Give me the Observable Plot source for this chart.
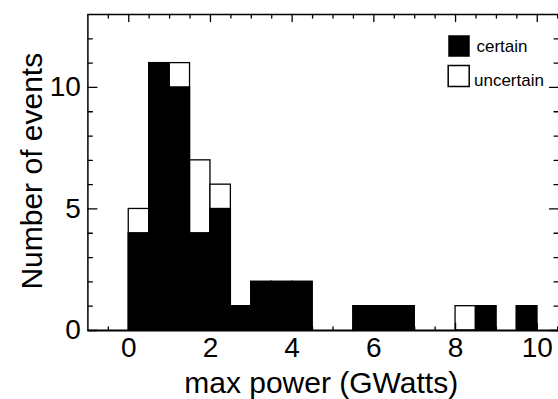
<!DOCTYPE html>
<html><head><meta charset="utf-8">
<script src="https://cdn.jsdelivr.net/npm/d3@7"></script>
<script src="https://cdn.jsdelivr.net/npm/@observablehq/plot@0.6"></script>
<style>html,body{margin:0;padding:0;background:#fff;overflow:hidden}</style>
</head><body><div id="chart"></div>
<script>
// Histogram bins (max power, GWatts) — bin start values
const binStart = [0, 0.5, 1, 1.5, 2, 2.5, 3, 3.5, 4, 4.5, 5, 5.5, 6, 6.5, 7, 7.5, 8, 8.5, 9, 9.5];
const binWidth = 0.5;
// Counts per bin
const certain   = [4, 11, 10, 4, 5, 1, 2, 2, 2, 0, 0, 1, 1, 1, 0, 0, 0, 1, 0, 1];
const uncertain = [1, 0, 1, 3, 1, 0, 0, 0, 0, 0, 0, 0, 0, 0, 0, 0, 1, 0, 0, 0];
// Axes
const xDomain = [-1, 10.52];
const yDomain = [0, 13];
const xTickLabels = [0, 2, 4, 6, 8, 10];
const xMinorTicks = [-0.5, 0.5, 1, 1.5, 2.5, 3, 3.5, 4.5, 5, 5.5, 6.5, 7, 7.5, 8.5, 9, 9.5, 10.5];
const yTickLabels = [0, 5, 10];
const yMinorTicks = [1, 2, 3, 4, 6, 7, 8, 9, 11, 12];
const xAxisTitle = "max power (GWatts)";
const yAxisTitle = "Number of events";
const legendLabels = ["certain", "uncertain"];

const bins = binStart.map((x1, i) => ({x1, x2: x1 + binWidth, certain: certain[i], total: certain[i] + uncertain[i]}));

const tickShape = {draw(c, l) { c.moveTo(0, 0); c.lineTo(0, -l); }};
const tk = (data, opts) => Plot.vector(data, {...opts, anchor: "start", shape: tickShape, stroke: "black", strokeWidth: 1.3});

const chart = Plot.plot({
  width: 558, height: 399,
  marginLeft: 87.4, marginRight: 0, marginTop: 14, marginBottom: 69,
  x: {domain: xDomain},
  y: {domain: yDomain},
  style: {fontFamily: "'Liberation Sans', Arial, Helvetica, sans-serif", background: "white", color: "black"},
  marks: [
    Plot.rectY(bins.filter(d => d.total > 0), {x1: "x1", x2: "x2", y1: 0, y2: "total", fill: "white", stroke: "black", strokeWidth: 1.3}),
    Plot.rectY(bins.filter(d => d.certain > 0), {x1: "x1", x2: "x2", y1: 0, y2: "certain", fill: "black", stroke: "black", strokeWidth: 1.3}),
    Plot.ruleX([xDomain[0]], {stroke: "black", strokeWidth: 1.5}),
    Plot.ruleY([yDomain[0]], {stroke: "black", strokeWidth: 1.8}),
    Plot.ruleY([yDomain[1]], {stroke: "black", strokeWidth: 1.5}),
    tk(xTickLabels, {x: d => d, frameAnchor: "bottom", rotate: 0, length: 7}),
    tk(xMinorTicks, {x: d => d, frameAnchor: "bottom", rotate: 0, length: 3.5}),
    tk(xTickLabels, {x: d => d, frameAnchor: "top", rotate: 180, length: 7}),
    tk(xMinorTicks, {x: d => d, frameAnchor: "top", rotate: 180, length: 3.5}),
    tk(yTickLabels, {y: d => d, frameAnchor: "left", rotate: 90, length: 9}),
    tk(yMinorTicks, {y: d => d, frameAnchor: "left", rotate: 90, length: 4.5}),
    tk(yTickLabels, {y: d => d, frameAnchor: "right", rotate: -90, length: 9}),
    tk(yMinorTicks, {y: d => d, frameAnchor: "right", rotate: -90, length: 4.5}),
    Plot.axisX(xTickLabels, {tickSize: 0, tickPadding: 7, fontSize: 28, label: null}),
    Plot.axisY(yTickLabels, {tickSize: 0, tickPadding: 7, fontSize: 28, label: null}),
    Plot.text([xAxisTitle], {text: d => d, frameAnchor: "bottom", dx: -2, dy: 52.4, fontSize: 30, textAnchor: "middle", lineAnchor: "middle"}),
    Plot.text([yAxisTitle], {text: d => d, frameAnchor: "left", rotate: -90, dx: -55.4, dy: -1.3, fontSize: 30, textAnchor: "middle", lineAnchor: "middle"}),
    Plot.dot([legendLabels[0]], {frameAnchor: "top-right", dx: -99.5, dy: 31.5, symbol: "square", r: 11.85, fill: "black", stroke: "black", strokeWidth: 0.5}),
    Plot.dot([legendLabels[1]], {frameAnchor: "top-right", dx: -99.8, dy: 61.5, symbol: "square", r: 11.85, fill: "white", stroke: "black", strokeWidth: 1.5}),
    Plot.text([legendLabels[0]], {text: d => d, frameAnchor: "top-right", dx: -82, dy: 32.3, textAnchor: "start", fontSize: 17, lineAnchor: "middle"}),
    Plot.text([legendLabels[1]], {text: d => d, frameAnchor: "top-right", dx: -84.5, dy: 65.6, textAnchor: "start", fontSize: 17, lineAnchor: "middle"})
  ]
});
document.getElementById("chart").appendChild(chart);
</script>
</body></html>
